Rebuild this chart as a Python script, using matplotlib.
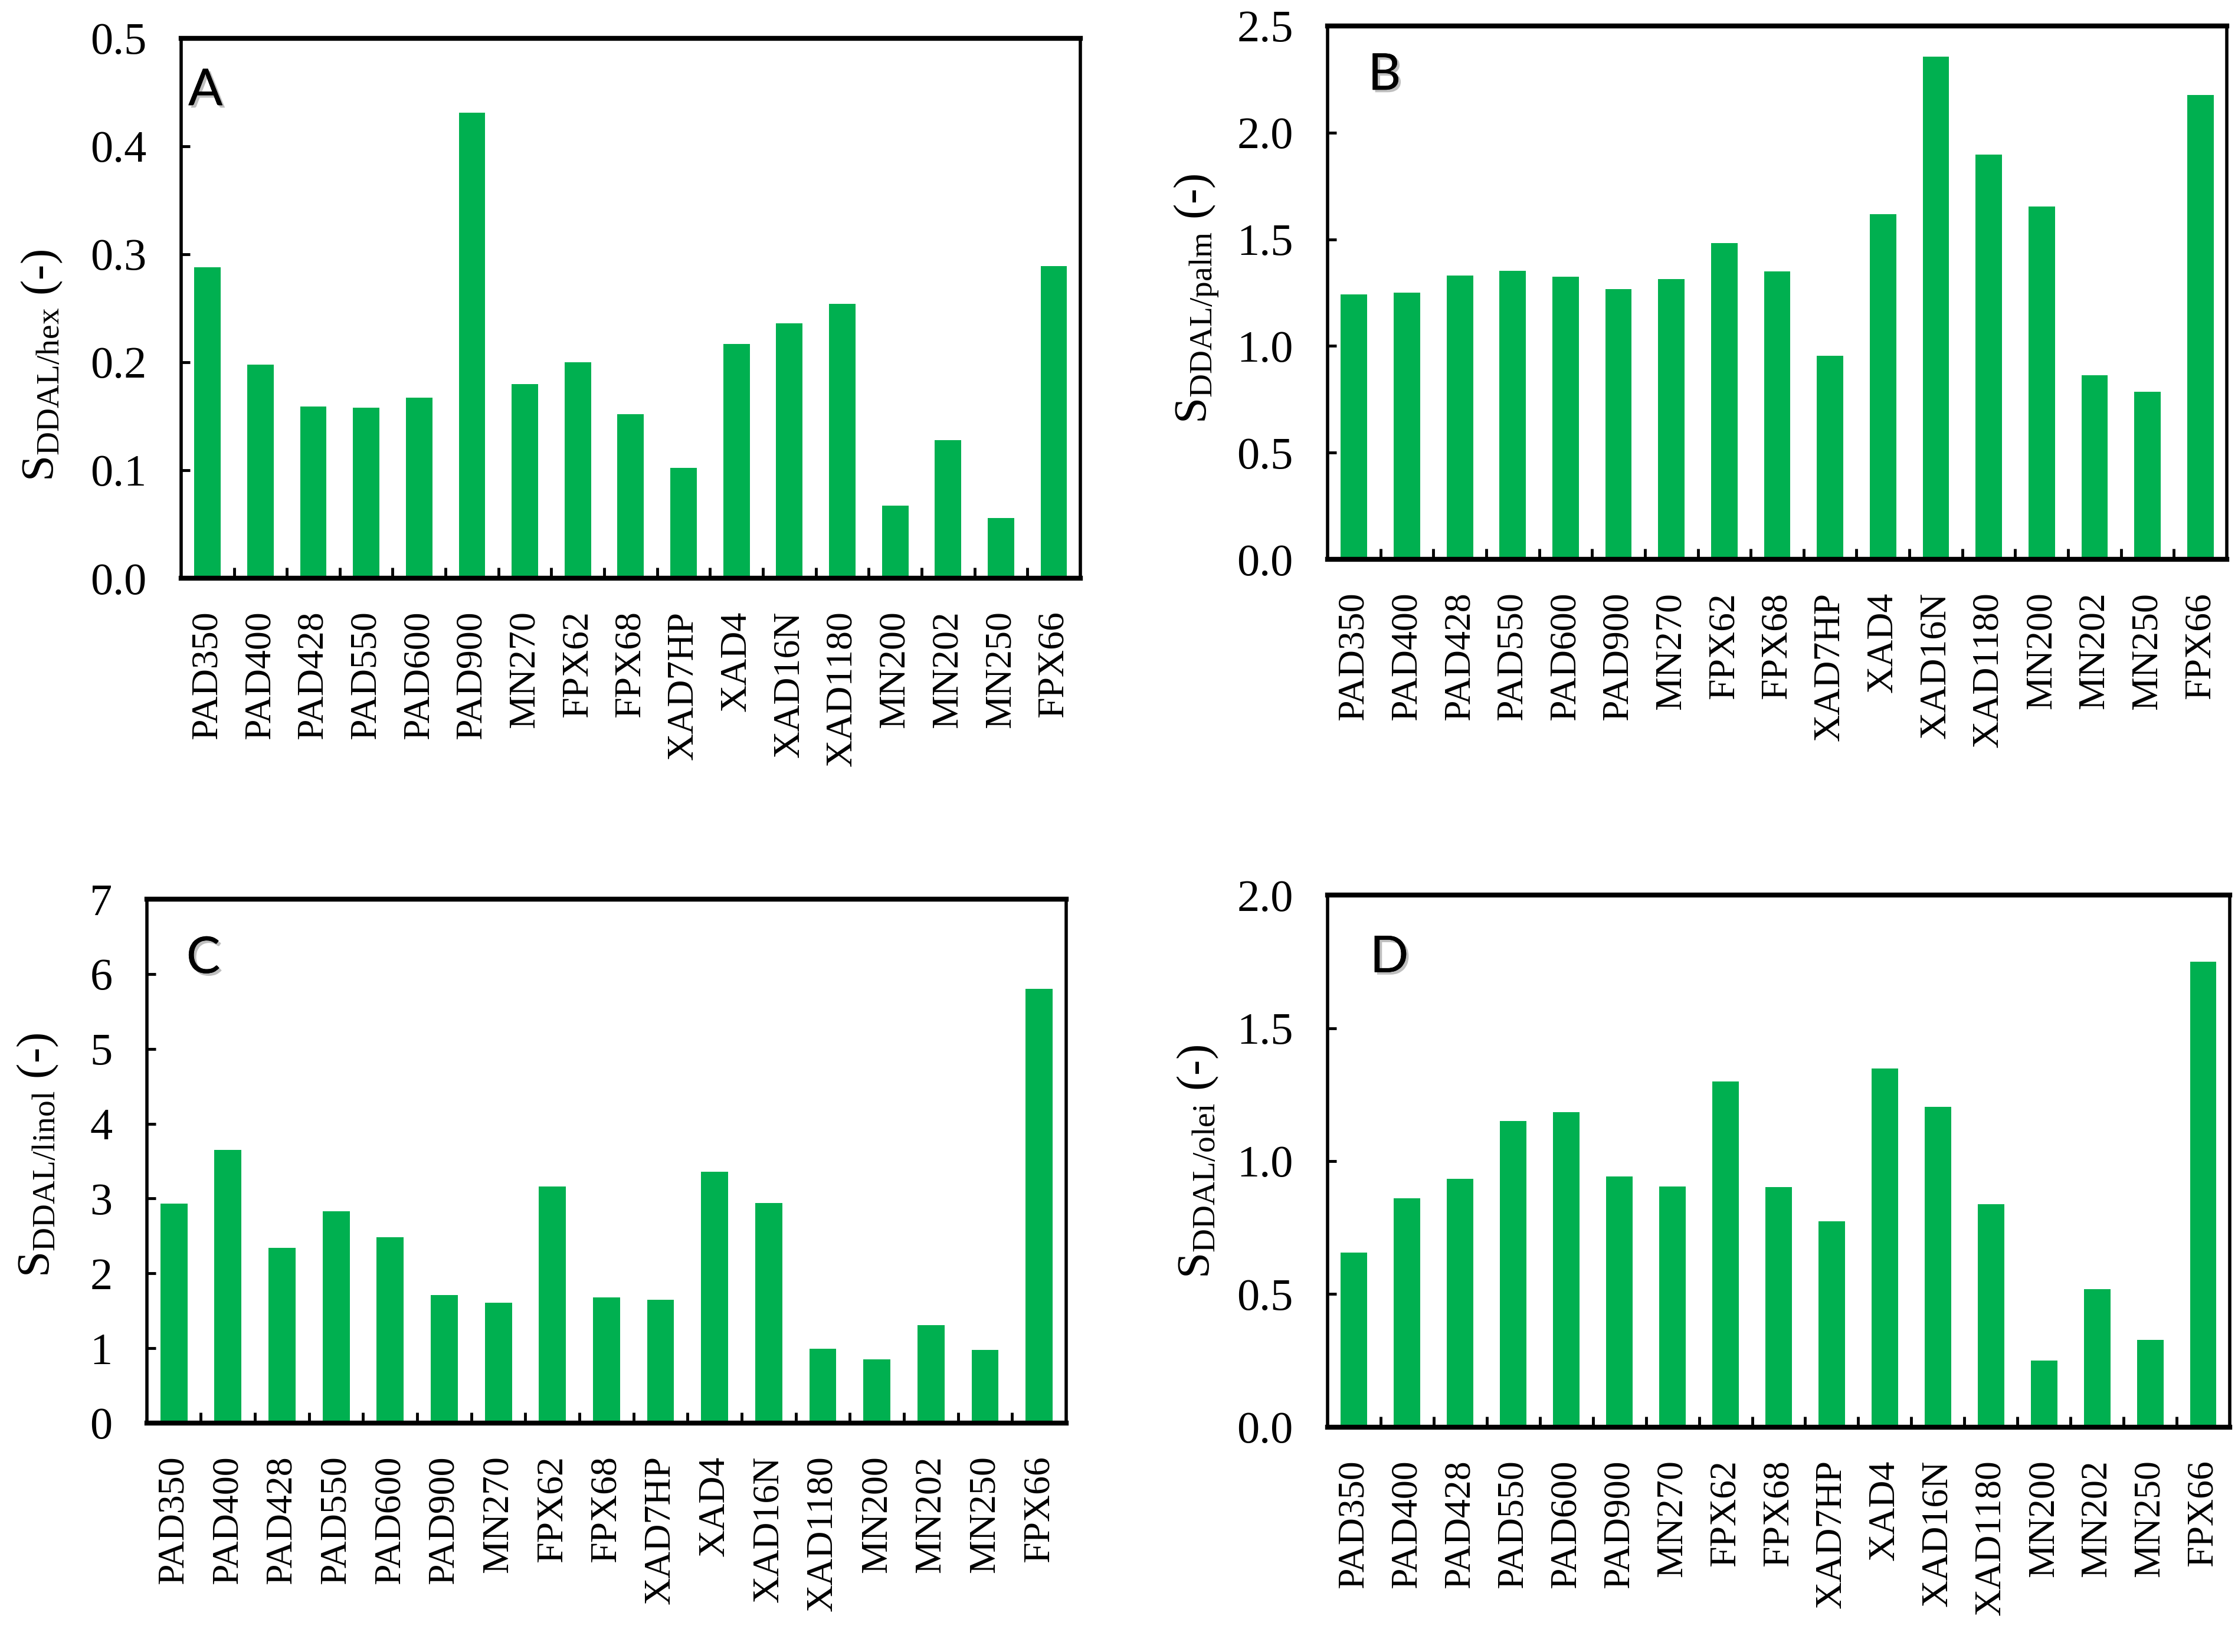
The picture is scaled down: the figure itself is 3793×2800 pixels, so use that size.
import matplotlib
matplotlib.use("Agg")
import matplotlib.pyplot as plt
import numpy as np
import matplotlib.patheffects as pe

categories = ["PAD350", "PAD400", "PAD428", "PAD550", "PAD600", "PAD900", "MN270", "FPX62",
              "FPX68", "XAD7HP", "XAD4", "XAD16N", "XAD1180", "MN200", "MN202", "MN250", "FPX66"]

s_hex = [0.288, 0.198, 0.159, 0.158, 0.167, 0.431, 0.180, 0.200, 0.152, 0.102, 0.217, 0.236,
         0.254, 0.067, 0.128, 0.056, 0.289]
s_palm = [1.242, 1.249, 1.330, 1.351, 1.325, 1.267, 1.313, 1.482, 1.350, 0.953, 1.618, 2.355,
          1.897, 1.653, 0.863, 0.785, 2.177]
s_linol = [2.93, 3.65, 2.34, 2.83, 2.48, 1.71, 1.61, 3.16, 1.68, 1.65, 3.36, 2.94, 0.995, 0.85,
           1.31, 0.975, 5.80]
s_olei = [0.656, 0.861, 0.934, 1.150, 1.183, 0.943, 0.905, 1.299, 0.902, 0.773, 1.348, 1.205,
          0.837, 0.251, 0.518, 0.327, 1.749]

plt.rcParams['font.family'] = ['Liberation Serif', 'DejaVu Serif']
plt.rcParams['mathtext.fontset'] = 'custom'
plt.rcParams['mathtext.rm'] = 'Liberation Serif'
plt.rcParams['mathtext.it'] = 'Liberation Serif:italic'

GREEN = '#00B050'
fig = plt.figure(figsize=(37.93, 28.0), dpi=100)

panels = [
    dict(rect=[0.0809, 0.650, 0.4018, 0.3268], data=s_hex, ylim=(0, 0.5), yt=np.arange(0, 0.51, 0.1),
         fmt='{:.1f}', lab=r'$\mathrm{S}_{\mathrm{DDAL/hex}}$ (-)', lx=-0.130, ly=0.394, letter='A', lp=(0.008, 0.945)),
    dict(rect=[0.5932, 0.6614, 0.4018, 0.3229], data=s_palm, ylim=(0, 2.5), yt=np.arange(0, 2.51, 0.5),
         fmt='{:.1f}', lab=r'$\mathrm{S}_{\mathrm{DDAL/palm}}$ (-)', lx=-0.119, ly=0.489, letter='B', lp=(0.045, 0.95)),
    dict(rect=[0.0656, 0.1386, 0.4108, 0.3171], data=s_linol, ylim=(0, 7), yt=np.arange(0, 7.1, 1),
         fmt='{:.0f}', lab=r'$\mathrm{S}_{\mathrm{DDAL/linol}}$ (-)', lx=-0.094, ly=0.512, letter='C', lp=(0.043, 0.93)),
    dict(rect=[0.5932, 0.1361, 0.4031, 0.3221], data=s_olei, ylim=(0, 2.0), yt=np.arange(0, 2.01, 0.5),
         fmt='{:.1f}', lab=r'$\mathrm{S}_{\mathrm{DDAL/olei}}$ (-)', lx=-0.119, ly=0.499, letter='D', lp=(0.047, 0.925)),
]

x = np.arange(len(categories))
for p in panels:
    ax = fig.add_axes(p['rect'])
    ax.bar(x, p['data'], width=0.5, color=GREEN, zorder=2)
    ax.set_xlim(-0.5, len(categories) - 0.5)
    ax.set_ylim(*p['ylim'])
    ax.set_yticks(p['yt'])
    ax.set_yticklabels([p['fmt'].format(v) for v in p['yt']], fontsize=55)
    ax.set_xticks(x)
    ax.set_xticklabels(categories, rotation=90, fontsize=46)
    ax.set_xticks(np.arange(0.5, len(categories) - 1, 1.0), minor=True)
    ax.tick_params(axis='x', which='major', length=0, pad=40)
    ax.tick_params(axis='x', which='minor', direction='in', length=13, width=3.5)
    ax.tick_params(axis='y', which='major', direction='in', length=11, width=3.5, pad=42)
    for s in ax.spines.values():
        s.set_linewidth(4)
        s.set_color('black')
    ax.spines['top'].set_linewidth(6)
    ax.spines['bottom'].set_linewidth(6)
    ax.set_ylabel(p['lab'], fontsize=57)
    ax.yaxis.set_label_coords(p['lx'], p['ly'])
    t = ax.text(p['lp'][0], p['lp'][1], p['letter'], transform=ax.transAxes, fontsize=62,
                family=['Lato', 'DejaVu Sans'], va='top', ha='left', color='black')
    t.set_path_effects([pe.withSimplePatchShadow(offset=(3, -3), shadow_rgbFace='gray', alpha=0.5), pe.Normal()])

fig.savefig('out.png', dpi=100)
